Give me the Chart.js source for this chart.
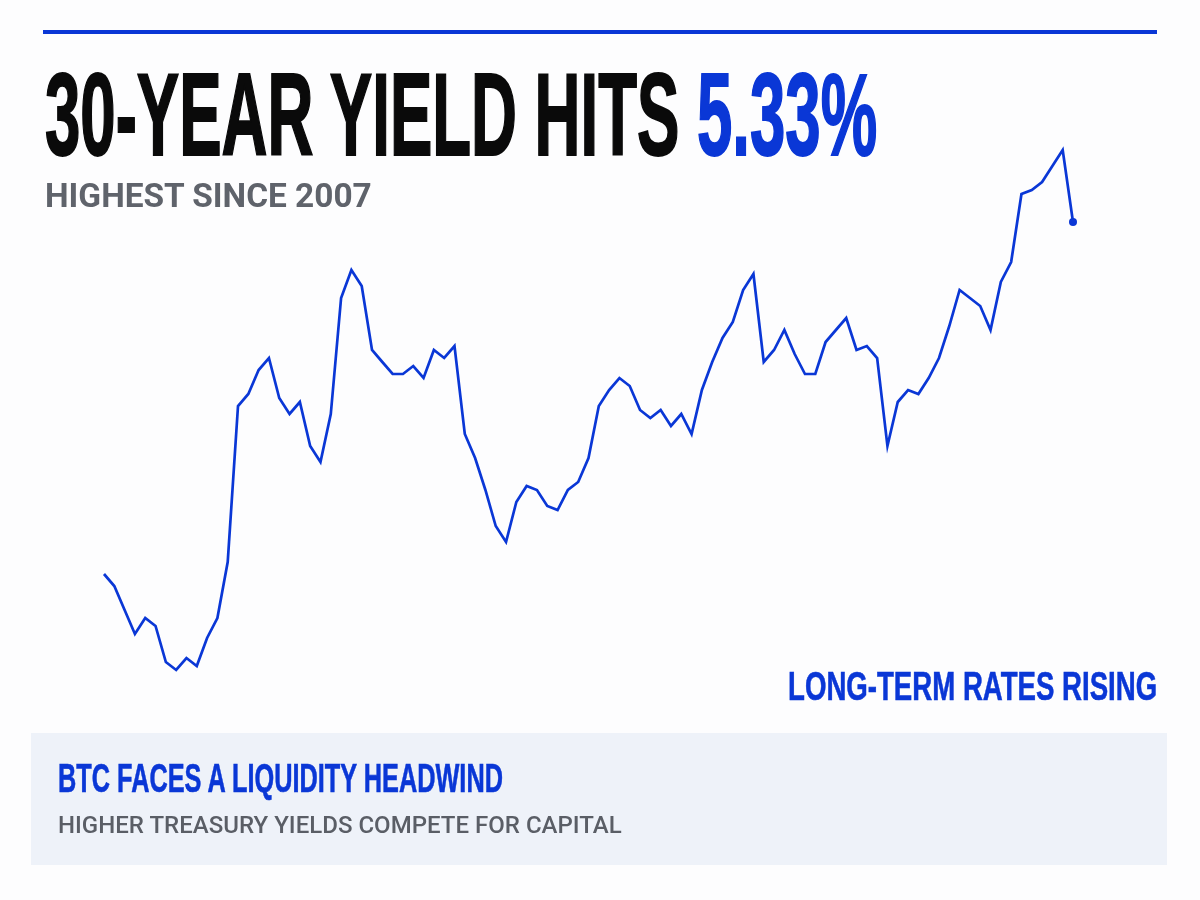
<!DOCTYPE html>
<html>
<head>
<meta charset="utf-8">
<script src="https://cdn.jsdelivr.net/npm/chart.js@4.4.1/dist/chart.umd.min.js"></script>
<style>
  html, body { margin: 0; padding: 0; background: #fdfdfe; }
  #wrap { position: relative; width: 1200px; height: 900px; overflow: hidden; }
  #rule { position: absolute; left: 43px; top: 30px; width: 1114px; height: 4px; background: #0a37d6; }
  #box { position: absolute; left: 31px; top: 733px; width: 1136px; height: 132px; background: #eef2f9; }
  .t { position: absolute; white-space: nowrap; line-height: 1; transform-origin: left top; }
  #title { left: 45px; top: 48px; font: 700 116px "Liberation Sans Narrow", sans-serif; color: #0a0a0a; -webkit-text-stroke: 2px #0a0a0a; }
  #title span { color: #0a37d6; -webkit-text-stroke: 2px #0a37d6; }
  #sub { left: 45px; top: 176px; font: 700 33px Roboto, sans-serif; color: #5f636b; }
  #tag { right: 43px; top: 663px; font: 700 41px "Liberation Sans Narrow", sans-serif; color: #0a37d6; transform-origin: right top; -webkit-text-stroke: 0.6px #0a37d6; }
  #boxhead { left: 58px; top: 756px; font: 700 40px "Liberation Sans Narrow", sans-serif; color: #0a37d6; -webkit-text-stroke: 0.6px #0a37d6; }
  #boxsub { left: 58px; top: 810px; font: 500 24.5px Roboto, sans-serif; color: #5a5e66; }
  canvas { position: absolute; left: 0; top: 0; }
</style>
</head>
<body>
<div id="wrap">
  <div id="rule"></div>
  <div id="box"></div>
  <canvas id="yieldChart" width="1200" height="900"></canvas>
  <div class="t" id="title">30-YEAR YIELD HITS <span>5.33%</span></div>
  <div class="t" id="sub">HIGHEST SINCE 2007</div>
  <div class="t" id="tag">LONG-TERM RATES RISING</div>
  <div class="t" id="boxhead">BTC FACES A LIQUIDITY HEADWIND</div>
  <div class="t" id="boxsub">HIGHER TREASURY YIELDS COMPETE FOR CAPITAL</div>
</div>
<script>
// 30-year yield (no axis on the picture)
const yields = [
  4.27, 4.24, 4.18, 4.12, 4.16, 4.14, 4.05, 4.03, 4.06, 4.04,
  4.11, 4.16, 4.30, 4.69, 4.72, 4.78, 4.81, 4.71, 4.67, 4.70,
  4.59, 4.55, 4.67, 4.96, 5.03, 4.99, 4.83, 4.80, 4.77, 4.77,
  4.79, 4.76, 4.83, 4.81, 4.84, 4.62, 4.56, 4.48, 4.39, 4.35,
  4.45, 4.49, 4.48, 4.44, 4.43, 4.48, 4.50, 4.56, 4.69, 4.73,
  4.76, 4.74, 4.68, 4.66, 4.68, 4.64, 4.67, 4.62, 4.73, 4.80,
  4.86, 4.90, 4.98, 5.02, 4.80, 4.83, 4.88, 4.82, 4.77, 4.77,
  4.85, 4.88, 4.91, 4.83, 4.84, 4.81, 4.59, 4.70, 4.73, 4.72,
  4.76, 4.81, 4.89, 4.98, 4.96, 4.94, 4.88, 5.00, 5.05, 5.22,
  5.23, 5.25, 5.29, 5.33, 5.15
];
const labels = yields.map((v, i) => String(i + 1));
const yMin = 4.0;
const yMax = 5.4;

// squeeze the headings to the width they have in the picture
const fits = { title: 832, sub: 327, tag: 369, boxhead: 445, boxsub: 564 };
Object.keys(fits).forEach(id => {
  const el = document.getElementById(id);
  el.style.transform = 'scaleX(' + (fits[id] / el.offsetWidth) + ')';
});

const lastIdx = yields.length - 1;
new Chart(document.getElementById('yieldChart'), {
  type: 'line',
  data: {
    labels: labels,
    datasets: [{
      data: yields,
      borderColor: '#0a37d6',
      backgroundColor: '#0a37d6',
      borderWidth: 2.7,
      tension: 0,
      clip: false,
      pointRadius: ctx => ctx.dataIndex === lastIdx ? 4 : 0,
      pointHoverRadius: 0,
      pointBorderWidth: 0
    }]
  },
  options: {
    responsive: false,
    animation: false,
    devicePixelRatio: 1,
    layout: { padding: { left: 104, right: 127, top: 122, bottom: 218 } },
    plugins: { legend: { display: false }, tooltip: { enabled: false } },
    scales: {
      x: { display: false, offset: false },
      y: { display: false, min: yMin, max: yMax }
    }
  }
});
</script>
</body>
</html>
